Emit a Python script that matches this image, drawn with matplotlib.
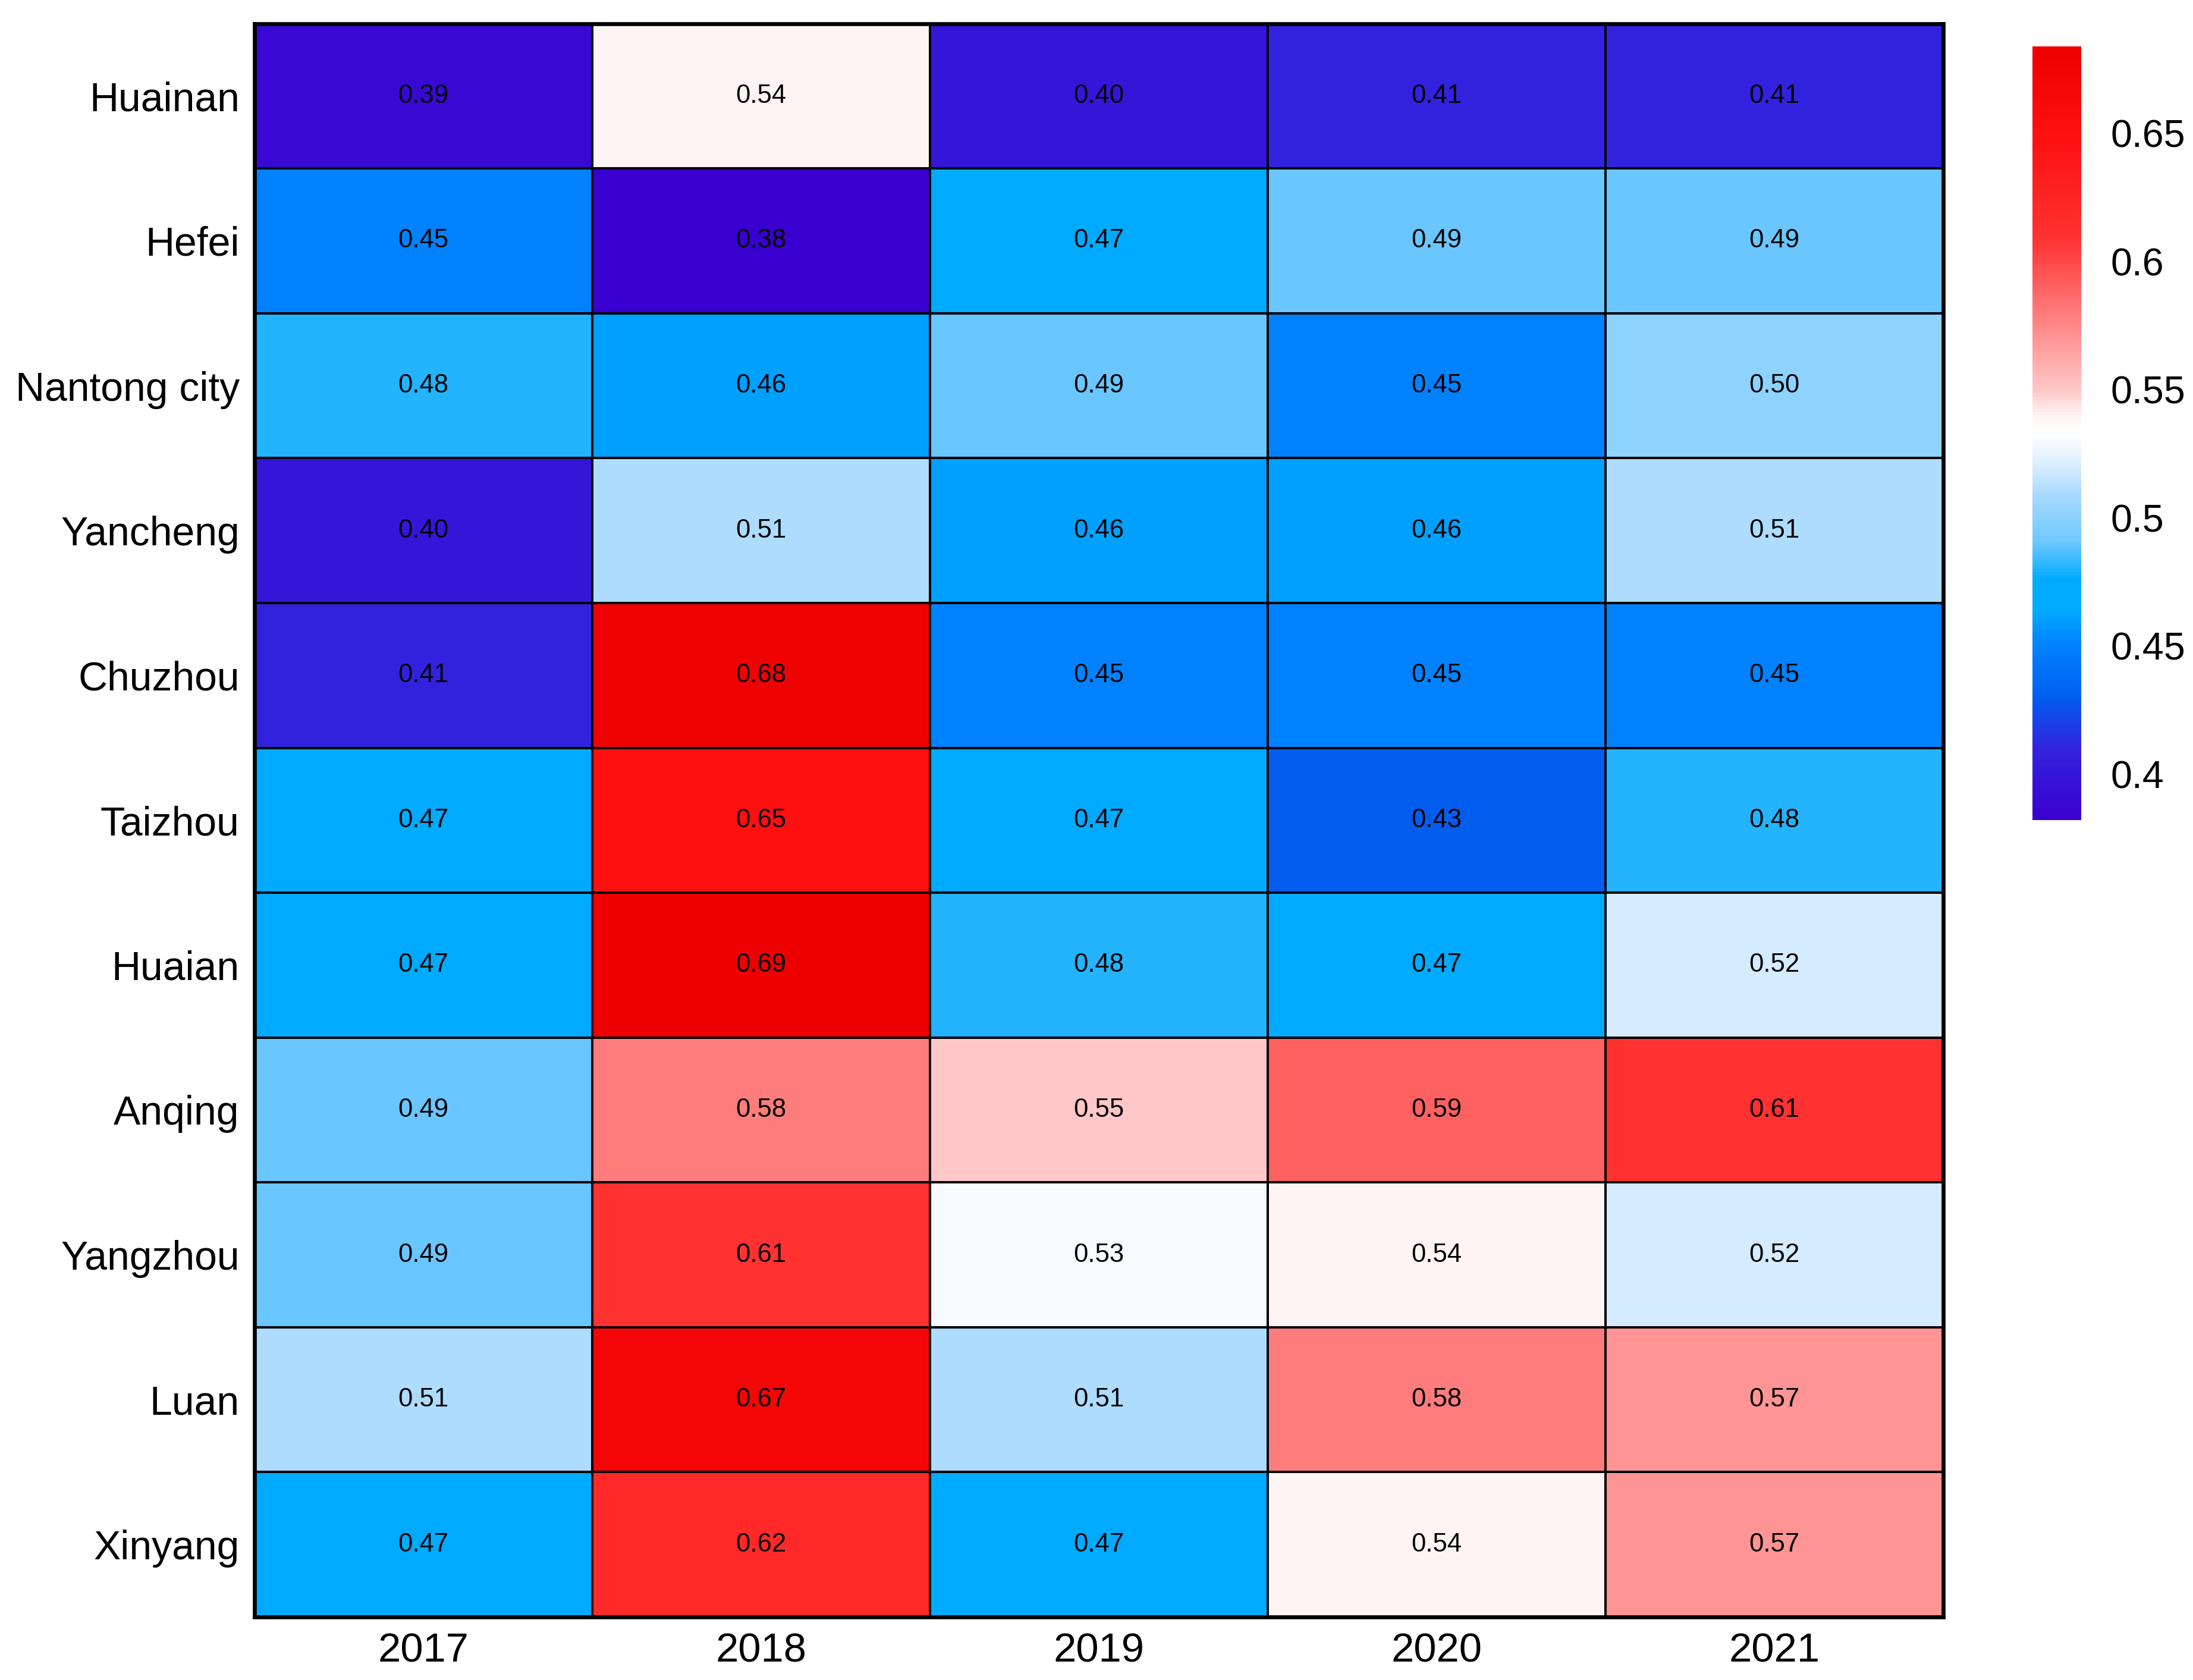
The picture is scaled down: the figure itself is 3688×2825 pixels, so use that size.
import matplotlib.pyplot as plt
import numpy as np
from matplotlib.colors import LinearSegmentedColormap

# data
cities = ["Huainan", "Hefei", "Nantong city", "Yancheng", "Chuzhou", "Taizhou",
          "Huaian", "Anqing", "Yangzhou", "Luan", "Xinyang"]
years = ["2017", "2018", "2019", "2020", "2021"]

huainan = [0.39, 0.54, 0.40, 0.41, 0.41]
hefei = [0.45, 0.38, 0.47, 0.49, 0.49]
nantong = [0.48, 0.46, 0.49, 0.45, 0.50]
yancheng = [0.40, 0.51, 0.46, 0.46, 0.51]
chuzhou = [0.41, 0.68, 0.45, 0.45, 0.45]
taizhou = [0.47, 0.65, 0.47, 0.43, 0.48]
huaian = [0.47, 0.69, 0.48, 0.47, 0.52]
anqing = [0.49, 0.58, 0.55, 0.59, 0.61]
yangzhou = [0.49, 0.61, 0.53, 0.54, 0.52]
luan = [0.51, 0.67, 0.51, 0.58, 0.57]
xinyang = [0.47, 0.62, 0.47, 0.54, 0.57]

values = np.array([huainan, hefei, nantong, yancheng, chuzhou, taizhou,
                   huaian, anqing, yangzhou, luan, xinyang])

cbar_ticks = [0.4, 0.45, 0.5, 0.55, 0.6, 0.65]

plt.rcParams['font.family'] = ['Liberation Sans', 'DejaVu Sans']

# colour ramp picked off the reference colourbar
cmap = LinearSegmentedColormap.from_list("bwr_custom", [
    (0.0, "#3A00D0"),
    (0.09, "#3322DD"),
    (0.16, "#0060F0"),
    (0.23, "#0085FF"),
    (0.27, "#00AAFF"),
    (0.31, "#00AAFF"),
    (0.36, "#70C8FF"),
    (0.42, "#A8DAFF"),
    (0.46, "#DCEEFF"),
    (0.50, "#FFFFFF"),
    (0.52, "#FFF6F6"),
    (0.556, "#FFC8C8"),
    (0.65, "#FF8080"),
    (0.75, "#FF3333"),
    (0.88, "#FF1111"),
    (1.0, "#EE0000"),
])

fig = plt.figure(figsize=(3688 / 300, 2825 / 300), dpi=300)
ax = fig.add_axes([0.116, 0.0375, 0.770, 0.9485])
cax = fig.add_axes([0.9267, 0.5117, 0.0223, 0.4608])

mesh = ax.pcolormesh(values, cmap=cmap, vmin=0.382, vmax=0.684,
                     edgecolors="black", linewidth=0.9)
ax.set_xlim(0, len(years))
ax.set_ylim(len(cities), 0)

for i in range(len(cities)):
    for j in range(len(years)):
        ax.text(j + 0.5, i + 0.5, "%.2f" % values[i, j], ha="center", va="center",
                fontsize=10.5, color="black")

ax.set_xticks(np.arange(len(years)) + 0.5)
ax.set_xticklabels(years, fontsize=16.5)
ax.set_yticks(np.arange(len(cities)) + 0.5)
ax.set_yticklabels(cities, fontsize=16.3)
ax.tick_params(length=0, pad=6)
for s in ax.spines.values():
    s.set_linewidth(1.6)

cb = fig.colorbar(mesh, cax=cax)
cb.outline.set_visible(False)
cb.set_ticks(cbar_ticks)
cb.set_ticklabels(["%g" % t for t in cbar_ticks])
cb.ax.tick_params(length=0, pad=12, labelsize=15.5)

fig.savefig("out.png", dpi=300)
